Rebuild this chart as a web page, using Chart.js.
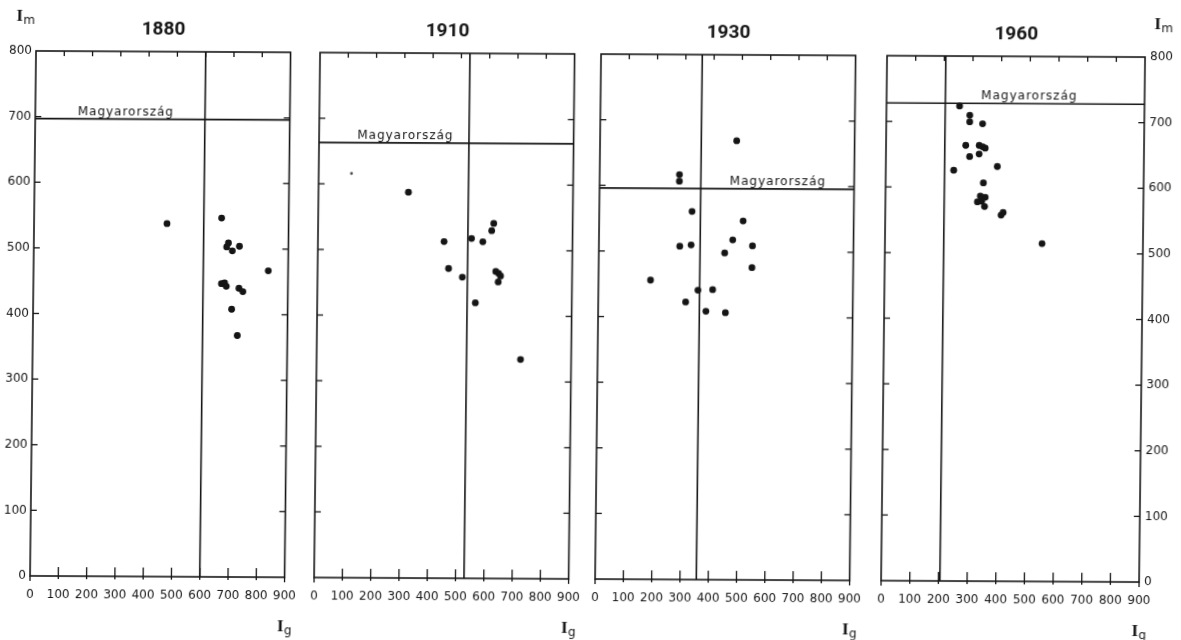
<!DOCTYPE html>
<html>
<head>
<meta charset="utf-8">
<script src="https://cdn.jsdelivr.net/npm/chart.js@4.4.1/dist/chart.umd.min.js"></script>
<style>
  html, body { margin: 0; padding: 0; background: #fff; overflow: hidden; }
  /* the scan is slightly skewed: verticals lean right, horizontals drop to the right */
  #sheet { position: relative; width: 1181px; height: 640px; transform: matrix(1, 0.0055, -0.0114, 1, 0, 0); transform-origin: 590px 320px; }
  #sheet canvas { position: absolute; top: 0; }
</style>
</head>
<body>
<div id="sheet"></div>
<script>
// years shown above the four panels
const years = ['1880', '1910', '1930', '1960'];

// tick labels
const xTicks = [0, 100, 200, 300, 400, 500, 600, 700, 800, 900];
const yTicks = [0, 100, 200, 300, 400, 500, 600, 700, 800];

// county values, I_g (x) and I_m (y)
const g1880 = [470, 663, 688, 682, 702, 727, 830, 665, 676, 682, 727, 741, 702, 723];
const m1880 = [538, 547, 509, 503, 497, 504, 467, 447, 448, 443, 440, 435, 408, 368];

const g1910 = [318, 621, 614, 446, 543, 583, 463, 512, 630, 640, 647, 639, 559, 721];
const m1910 = [588, 541, 530, 513, 518, 513, 472, 459, 468, 465, 461, 452, 420, 334];
// one faint, small mark in 1910
const g1910Faint = [116];
const m1910Faint = [616];

const g1930 = [483, 282, 282, 328, 509, 286, 326, 473, 445, 543, 542, 184, 404, 352, 309, 381, 450];
const m1930 = [669, 617, 607, 561, 547, 508, 510, 518, 498, 509, 476, 456, 442, 441, 423, 409, 407];

const g1960 = [255, 291, 291, 336, 278, 325, 337, 346, 292, 325, 237, 389, 341, 331, 348, 321, 336, 346, 404, 411, 548];
const m1960 = [724, 710, 700, 697, 664, 664, 662, 660, 647, 651, 626, 632, 607, 587, 585, 578, 579, 571, 558, 562, 515];

// national average (Magyarország) for each year
const hunG = [600, 530, 358, 205];
const hunM = [697, 663, 596, 728];

const seriesG = [g1880, g1910, g1930, g1960];
const seriesM = [m1880, m1910, m1930, m1960];
const faintG = [[], g1910Faint, [], []];
const faintM = [[], m1910Faint, [], []];

// layout of the panels
const BOX_LEFT = [33, 317, 598, 884];
const BOX_W = 258, BOX_TOP = 54, BOX_BOTTOM = 579;
const LABEL_START = [150, 135, 460, 330];   // where the "Magyarország" text begins (x units)
const INK = '#151515';
const NUM_FONT = "'DejaVu Sans', sans-serif";

const sheet = document.getElementById('sheet');

const decorPlugin = {
  id: 'decor',
  afterDraw(chart) {
    const i = chart.options.panelIndex;
    const ctx = chart.ctx;
    const { left, right, top, bottom } = chart.chartArea;
    const sx = chart.scales.x, sy = chart.scales.y;
    const line = (x1, y1, x2, y2) => { ctx.beginPath(); ctx.moveTo(x1, y1); ctx.lineTo(x2, y2); ctx.stroke(); };

    ctx.save();
    ctx.strokeStyle = INK;
    ctx.fillStyle = INK;
    ctx.lineWidth = 1.6;
    ctx.strokeRect(left, top, right - left, bottom - top);

    // inward tick marks on all four sides
    ctx.lineWidth = 1.3;
    xTicks.forEach(v => {
      const px = sx.getPixelForValue(v);
      if (v > 0 && v < 900) {
        line(px, bottom + 3, px, bottom - 9);
        line(px, top, px, top + 5);
      } else {
        line(px, bottom, px, bottom + 5);
      }
    });
    yTicks.forEach(v => {
      if (v <= 0 || v >= 800) return;
      const py = sy.getPixelForValue(v);
      line(left, py, left + 6, py);
      line(right - 6, py, right, py);
    });

    // year title
    ctx.font = "bold 19px 'Roboto', sans-serif";
    ctx.textAlign = 'center';
    ctx.textBaseline = 'middle';
    ctx.fillText(years[i], (left + right) / 2, top - 22);

    // Magyarország label
    ctx.font = "12px 'DejaVu Sans', sans-serif";
    ctx.letterSpacing = '1px';
    ctx.textAlign = 'left';
    ctx.textBaseline = 'alphabetic';
    ctx.fillText('Magyarország', sx.getPixelForValue(LABEL_START[i]), sy.getPixelForValue(hunM[i]) - 4);
    ctx.letterSpacing = '0px';

    // axis names
    const sub = (x, y, main, s) => {
      ctx.font = "bold 17px 'Liberation Serif', serif";
      ctx.fillText(main, x, y);
      ctx.font = "12px 'DejaVu Sans', sans-serif";
      ctx.fillText(s, x + 7, y + 3);
    };
    ctx.textAlign = 'left';
    sub(right - 7, bottom + 54, 'I', 'g');
    if (i === 0) sub(left - 20, top - 30, 'I', 'm');
    if (i === 3) sub(right + 9, top - 28, 'I', 'm');
    ctx.restore();
  }
};

function makePanel(i) {
  const padL = i === 0 ? 33 : 20;
  const padR = i === 3 ? 41 : 20;
  const cv = document.createElement('canvas');
  cv.width = BOX_W + padL + padR;
  cv.height = 640;
  cv.style.left = (BOX_LEFT[i] - padL) + 'px';
  sheet.appendChild(cv);

  const gs = seriesG[i], ms = seriesM[i];
  const tickFont = { family: NUM_FONT, size: 12 };
  const setTicks = list => scale => { scale.ticks = list.map(v => ({ value: v })); };
  const noGrid = { display: false, drawTicks: false };

  return new Chart(cv, {
    type: 'scatter',
    data: {
      datasets: [
        {
          data: gs.map((g, k) => ({ x: g, y: ms[k] })),
          pointRadius: 3.4,
          backgroundColor: INK,
          borderWidth: 0
        },
        {
          data: faintG[i].map((g, k) => ({ x: g, y: faintM[i][k] })),
          pointRadius: 1.4,
          backgroundColor: '#444',
          borderWidth: 0
        },
        {
          data: [{ x: 0, y: hunM[i] }, { x: 900, y: hunM[i] }],
          showLine: true, borderColor: INK, borderWidth: 1.6, pointRadius: 0
        },
        {
          data: [{ x: hunG[i], y: 0 }, { x: hunG[i], y: 800 }],
          showLine: true, borderColor: INK, borderWidth: 1.6, pointRadius: 0
        }
      ]
    },
    options: {
      panelIndex: i,
      responsive: false,
      animation: false,
      devicePixelRatio: 1,
      layout: { padding: { top: BOX_TOP, left: 0, right: 0, bottom: 0 } },
      plugins: { legend: { display: false }, tooltip: { enabled: false } },
      scales: {
        x: {
          type: 'linear', min: 0, max: 900,
          afterBuildTicks: setTicks(xTicks),
          afterFit: s => { s.height = 640 - BOX_BOTTOM; },
          grid: noGrid, border: { display: false },
          ticks: { font: tickFont, color: INK, padding: 12, maxRotation: 0, autoSkip: false }
        },
        y: {
          type: 'linear', position: 'left', min: 0, max: 800,
          afterBuildTicks: setTicks(yTicks),
          afterFit: s => { s.width = padL; },
          grid: noGrid, border: { display: false },
          ticks: { display: i === 0, font: tickFont, color: INK, padding: 4, autoSkip: false }
        },
        y2: {
          type: 'linear', position: 'right', min: 0, max: 800,
          afterBuildTicks: setTicks(yTicks),
          afterFit: s => { s.width = padR; },
          grid: noGrid, border: { display: false },
          ticks: { display: i === 3, font: tickFont, color: INK, padding: 5, autoSkip: false }
        }
      }
    },
    plugins: [decorPlugin]
  });
}

years.forEach((y, i) => makePanel(i));
</script>
</body>
</html>
